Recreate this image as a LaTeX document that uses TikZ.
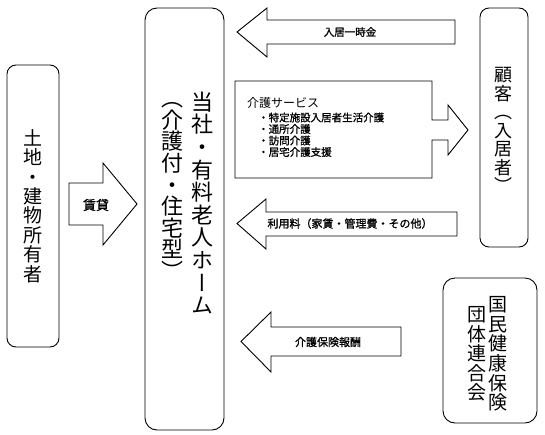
\documentclass[tikz,border=0pt]{standalone}
\usepackage{fontspec}
\setmainfont{Noto Sans CJK JP}
\newfontfamily\vjp[RawFeature=+vert]{Noto Sans CJK JP}
\newfontfamily\jpb[FakeBold=1.2]{Noto Sans CJK JP}
\newfontfamily\jpn{Noto Sans CJK JP}
\tikzset{
  box/.style={draw, line width=0.9pt, rounded corners=9pt, inner sep=0pt},
  blk/.style={draw, line width=0.9pt, fill=white, line join=miter},
  vlab/.style={align=center, inner sep=0pt},
  alab/.style={inner sep=0pt, font=\jpb\fontsize{11}{13}\selectfont},
  ilab/.style={inner sep=0pt, anchor=west, font=\jpb\fontsize{10.5}{12}\selectfont},
}
\begin{document}
\begin{tikzpicture}[x=1pt,y=-1pt]
\useasboundingbox (0,0) rectangle (545,434);
% boxes
\node[box, minimum width=52pt, minimum height=282pt] (owner) at (33,206) {};
\node[box, rounded corners=12pt, minimum width=79pt, minimum height=422pt] (home) at (184.5,219) {};
\node[box, minimum width=48pt, minimum height=239pt] (cust) at (504,127.5) {};
\node[box, rounded corners=12pt, minimum width=94pt, minimum height=145pt] (kokuho) at (490,350.5) {};
% vertical texts
\node[vlab, font=\vjp\fontsize{19}{19.4}\selectfont] (ownert) at (owner.center) {土\\地\\・\\建\\物\\所\\有\\者};
\node[vlab, font=\vjp\fontsize{22}{22.6}\selectfont] (homet1) at (202,203) {当\\社\\・\\有\\料\\老\\人\\ホ\\ー\\ム};
\node[vlab, font=\vjp\fontsize{22}{21.6}\selectfont] (homet2) at (172,191) {（\\介\\護\\付\\・\\住\\宅\\型\\）};
\node[vlab, font=\vjp\fontsize{18}{18.5}\selectfont] (custt) at (503,130) {顧\\客\\（\\入\\居\\者\\）};
\node[vlab, font=\vjp\fontsize{19}{19.6}\selectfont] (kokut1) at (498,354) {国\\民\\健\\康\\保\\険};
\node[vlab, font=\vjp\fontsize{19}{19.6}\selectfont] (kokut2) at (477,354) {団\\体\\連\\合\\会};
% block arrows
\draw[blk] (69,183) -- (103,183) -- (103,163) -- (137,204) -- (103,245) -- (103,225) -- (69,225) -- cycle;
\node[inner sep=0pt, font=\jpb\fontsize{13}{15}\selectfont] (chintai) at (96,205) {賃貸};
\draw[blk] (237,32) -- (267,8) -- (267,20) -- (455,20) -- (455,44) -- (267,44) -- (267,57) -- cycle;
\node[inner sep=0pt, font=\jpb\fontsize{10.5}{12}\selectfont] (ichiji) at (350,32) {入居一時金};
\draw[blk] (235,81) -- (432,81) -- (432,120) -- (448,120) -- (448,105) -- (468,130) -- (448,155) -- (448,140) -- (432,140) -- (432,178) -- (235,178) -- cycle;
\node[inner sep=0pt, anchor=west, font=\jpn\fontsize{12}{14}\selectfont] (kaigo) at (247,103) {介護サービス};
\node[ilab] (s1) at (258,117.5) {・特定施設入居者生活介護};
\node[ilab] (s2) at (258,129) {・通所介護};
\node[ilab] (s3) at (258,140.5) {・訪問介護};
\node[ilab] (s4) at (258,152) {・居宅介護支援};
\draw[blk] (237,223.5) -- (266,199) -- (266,212) -- (457,212) -- (457,236) -- (266,236) -- (266,249) -- cycle;
\node[alab] (riyo) at (350,223.5) {利用料（家賃・管理費・その他）};
\draw[blk] (241,341.5) -- (271,312) -- (271,327) -- (401,327) -- (401,356) -- (271,356) -- (271,372) -- cycle;
\node[alab] (hoshu) at (328,342) {介護保険報酬};
\end{tikzpicture}
\end{document}
